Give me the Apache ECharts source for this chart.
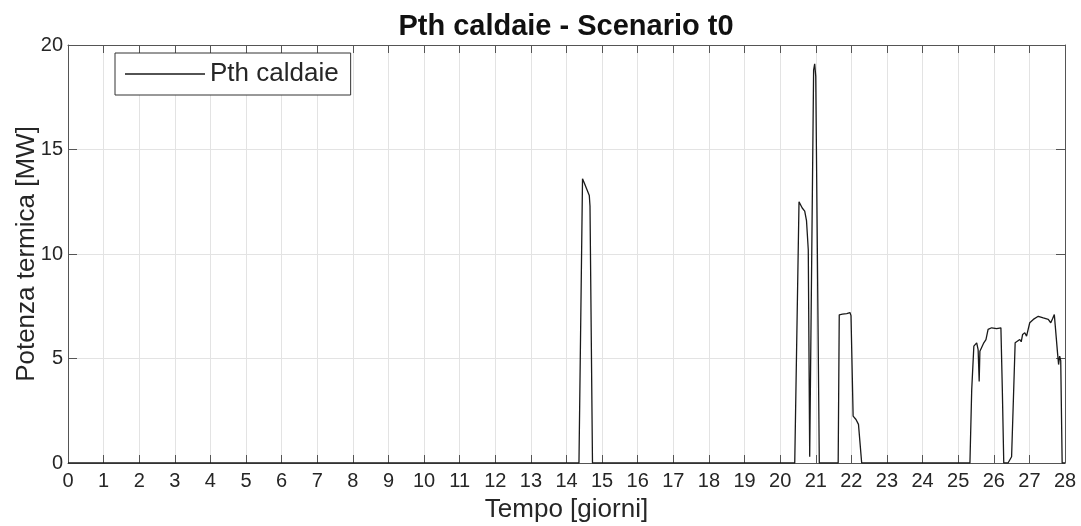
<!DOCTYPE html>
<html>
<head>
<meta charset="utf-8">
<script src="https://cdn.jsdelivr.net/npm/echarts@6/dist/echarts.min.js"></script>
<style>
html,body{margin:0;padding:0;background:#fff;}
#chart{width:1081px;height:526px;}
</style>
</head>
<body>
<div id="chart"></div>
<script>
// Data
var chartTitle = 'Pth caldaie - Scenario t0';
var seriesName = 'Pth caldaie';
var xLabel = 'Tempo [giorni]';
var yLabel = 'Potenza termica [MW]';

var tempoGiorni = [
  0, 14.35, 14.45, 14.50, 14.57, 14.64, 14.66, 14.73,
  20.41, 20.53, 20.58, 20.62, 20.69, 20.74, 20.79, 20.83, 20.94, 20.97, 21.00, 21.10,
  21.63, 21.66, 21.75, 21.87, 21.96, 21.99, 22.05, 22.13, 22.20, 22.24, 22.29,
  25.33, 25.38, 25.44, 25.52, 25.56, 25.59, 25.61, 25.66, 25.72, 25.78, 25.84, 25.94, 26.08, 26.20, 26.24, 26.28,
  26.40, 26.50, 26.55, 26.60, 26.64, 26.73, 26.77, 26.81, 26.87, 26.92, 27.01, 27.11, 27.25, 27.39, 27.53, 27.60, 27.65, 27.70, 27.75, 27.79, 27.82, 27.85, 27.88, 27.92, 28
];
var pthCaldaie = [
  0, 0, 13.6, 13.4, 13.1, 12.8, 12.3, 0,
  0, 12.5, 12.45, 12.2, 12.05, 11.6, 10.2, 0.3, 18.8, 19.1, 18.5, 0,
  0, 7.09, 7.12, 7.15, 7.2, 7.05, 2.24, 2.08, 1.85, 1.76, 0,
  0, 3.5, 5.59, 5.75, 5.43, 3.9, 5.35, 5.3, 5.75, 5.9, 6.39, 6.47, 6.43, 6.47, 3.5, 0,
  0, 0.3, 3.0, 5.75, 5.67, 5.91, 5.8, 6.15, 6.23, 6.07, 6.71, 6.87, 7.02, 6.94, 6.87, 6.71, 6.9, 7.1, 7.1, 5.27, 4.71, 5.11, 4.9, 0, 0
];

var xMin = 0, xMax = 28, xStep = 1;
var yMin = 0, yMax = 20, yStep = 5;

var seriesData = tempoGiorni.map(function (t, i) { return [t, pthCaldaie[i]]; });

var FONT = '"Liberation Sans", Arial, Helvetica, sans-serif';
var AXIS_COLOR = '#555';
var TEXT_COLOR = '#262626';
var GRID_COLOR = '#e3e3e3';

var chart = echarts.init(document.getElementById('chart'), null, {renderer: 'canvas'});
chart.setOption({
  animation: false,
  backgroundColor: '#fff',
  textStyle: {fontFamily: FONT},
  title: {
    text: chartTitle,
    left: 566,
    textAlign: 'center',
    top: 12,
    padding: 0,
    textStyle: {fontFamily: FONT, fontSize: 29, fontWeight: 'bold', color: '#111'}
  },
  legend: {
    data: [{name: seriesName, icon: 'rect'}],
    left: 115,
    top: 53,
    orient: 'vertical',
    padding: [8, 12, 8, 10],
    itemWidth: 80,
    itemHeight: 1.3,
    itemGap: 0,
    backgroundColor: '#fff',
    borderColor: '#333',
    borderWidth: 1,
    itemStyle: {color: '#1a1a1a', borderWidth: 0},
    lineStyle: {width: 0},
    textStyle: {fontFamily: FONT, fontSize: 26, color: TEXT_COLOR, padding: [0, 0, 0, 0]}
  },
  grid: {left: 68, right: 16, top: 45, bottom: 63, containLabel: false, outerBoundsMode: 'none'},
  xAxis: [{
    type: 'value', min: xMin, max: xMax, interval: xStep,
    name: xLabel, nameLocation: 'middle', nameGap: 34, nameMoveOverlap: false,
    nameTextStyle: {fontFamily: FONT, fontSize: 26, color: TEXT_COLOR},
    axisLine: {show: true, onZero: false, lineStyle: {color: AXIS_COLOR, width: 1}},
    axisTick: {show: true, inside: true, length: 8, lineStyle: {color: AXIS_COLOR}},
    axisLabel: {fontFamily: FONT, fontSize: 20, color: TEXT_COLOR, margin: 8},
    splitLine: {show: true, lineStyle: {color: GRID_COLOR, width: 1}}
  }, {
    type: 'value', min: xMin, max: xMax, interval: xStep, position: 'top',
    axisLine: {show: true, onZero: false, lineStyle: {color: AXIS_COLOR, width: 1}},
    axisTick: {show: true, inside: true, length: 8, lineStyle: {color: AXIS_COLOR}},
    axisLabel: {show: false},
    splitLine: {show: false}
  }],
  yAxis: [{
    type: 'value', min: yMin, max: yMax, interval: yStep,
    name: yLabel, nameLocation: 'middle', nameGap: 28, nameMoveOverlap: false,
    nameTextStyle: {fontFamily: FONT, fontSize: 26, color: TEXT_COLOR},
    axisLine: {show: true, onZero: false, lineStyle: {color: AXIS_COLOR, width: 1}},
    axisTick: {show: true, inside: true, length: 9, lineStyle: {color: AXIS_COLOR}},
    axisLabel: {fontFamily: FONT, fontSize: 20, color: TEXT_COLOR, margin: 5},
    splitLine: {show: true, lineStyle: {color: GRID_COLOR, width: 1}}
  }, {
    type: 'value', min: yMin, max: yMax, interval: yStep, position: 'right',
    axisLine: {show: true, onZero: false, lineStyle: {color: AXIS_COLOR, width: 1}},
    axisTick: {show: true, inside: true, length: 9, lineStyle: {color: AXIS_COLOR}},
    axisLabel: {show: false},
    splitLine: {show: false}
  }],
  series: [{
    name: seriesName,
    type: 'line',
    xAxisIndex: 0,
    yAxisIndex: 0,
    data: seriesData,
    symbol: 'none',
    showSymbol: false,
    lineStyle: {color: '#1a1a1a', width: 1.3},
    itemStyle: {color: '#1a1a1a'},
    z: 3
  }]
});
</script>
</body>
</html>
